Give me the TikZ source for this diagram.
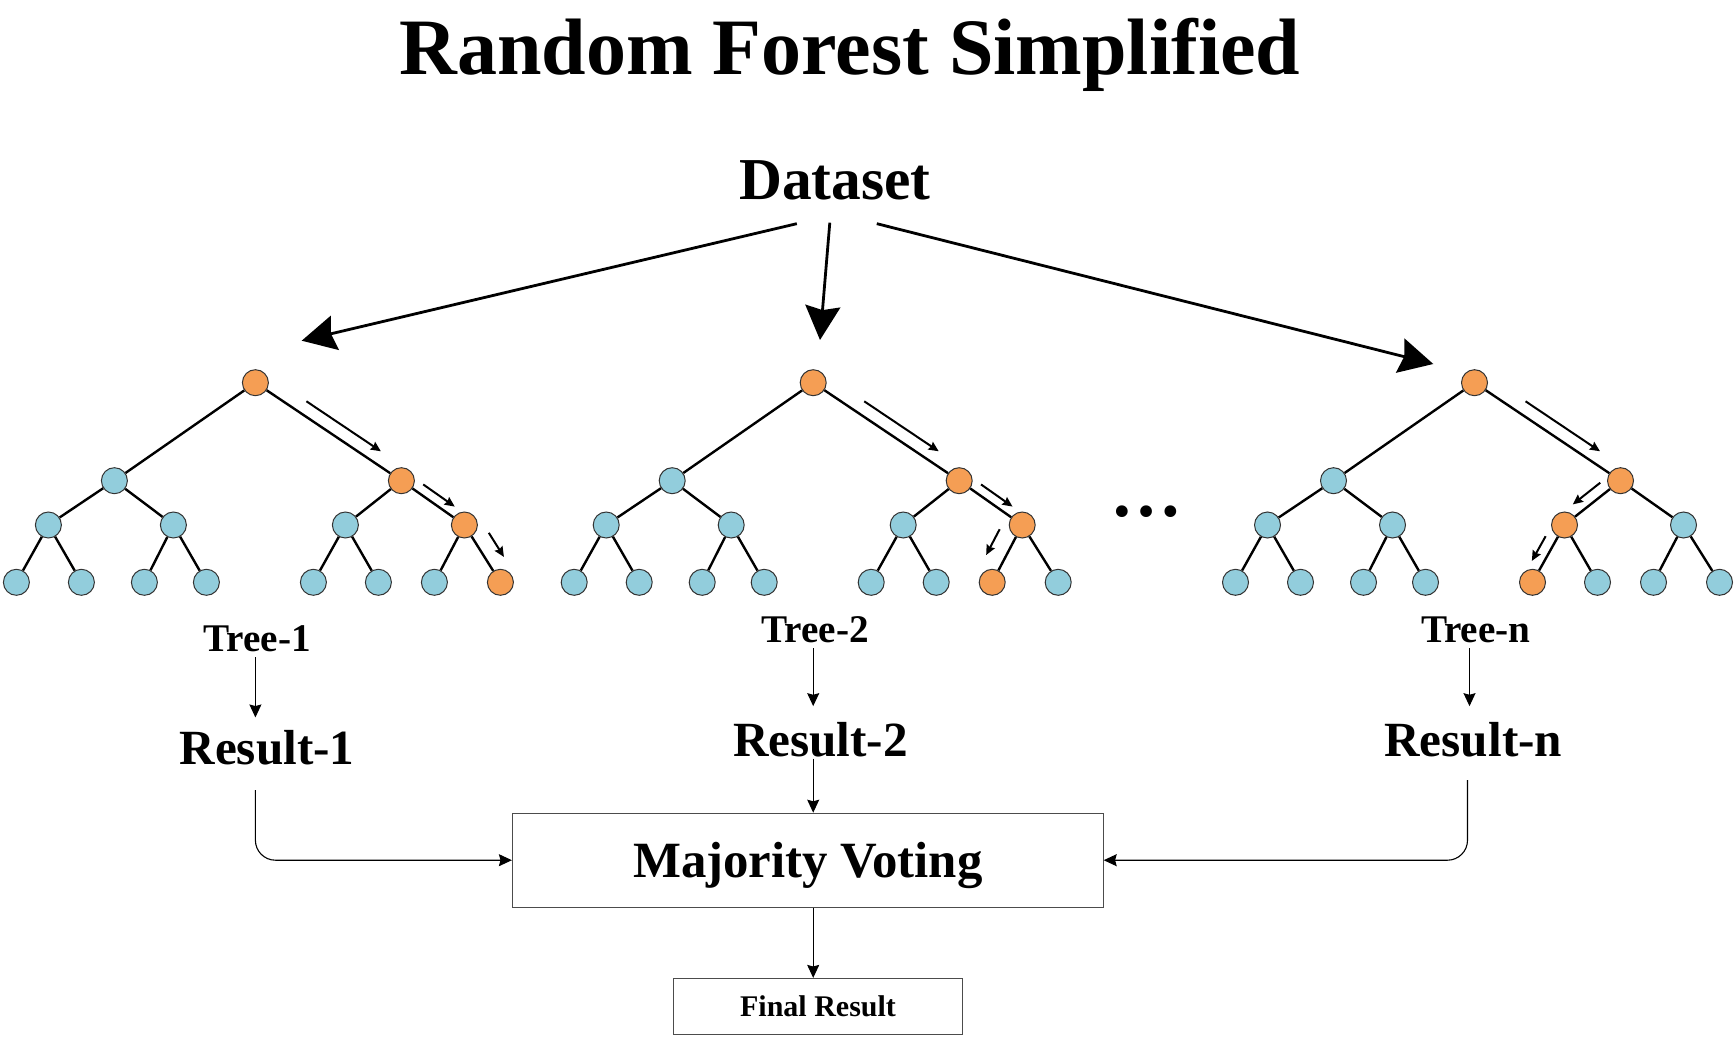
\documentclass[tikz,border=0pt]{standalone}
\usepackage{fontspec}
\setmainfont{Liberation Serif}
\usetikzlibrary{arrows.meta,calc}

\definecolor{leafblue}{RGB}{146,205,220}
\definecolor{hitorange}{RGB}{245,158,84}

\tikzset{
  treenode/.style={circle,draw=black!80,line width=0.5pt,minimum size=13pt,inner sep=0pt},
  branch/.style={line width=1.2pt},
  hintarrow/.style={line width=1pt,-{Stealth[length=5pt,width=4.5pt,inset=0.6pt]}},
  sample/.style={line width=1.4pt,-{Stealth[length=17pt,width=17.5pt,inset=2pt]}},
  feed/.style={line width=0.55pt,-{Stealth[length=6.5pt,width=6pt,inset=0.8pt]}},
  treelab/.style={anchor=base,inner sep=0pt,font=\fontsize{19.6}{23}\selectfont\bfseries},
  reslab/.style={anchor=base,inner sep=0pt,font=\fontsize{24.6}{29}\selectfont\bfseries},
  votebox/.style={draw=black!70,line width=0.6pt,minimum width=295.3pt,minimum height=46.9pt,
    text depth=0pt,font=\fontsize{25.4}{30}\selectfont\bfseries},
  finalbox/.style={draw=black!70,line width=0.6pt,minimum width=144.6pt,minimum height=28pt,
    text depth=0pt,font=\fontsize{15}{18}\selectfont\bfseries}
}

% one tree: #1 name, #2 root x, #3 leaf reached by the sample
\newcommand{\growtree}[3]{%
  \foreach \i/\dx/\y/\lev in {0/0/382.7/0, 1/-141/480.7/1, 2/146/480.7/1,
      3/-207/525/2, 4/-82/525/2, 5/90/525/2, 6/209/525/2,
      7/-239/582.3/3, 8/-174/582.3/3, 9/-111/582.3/3, 10/-49/582.3/3,
      11/58/582.3/3, 12/123/582.3/3, 13/179/582.3/3, 14/245/582.3/3}{
    \pgfmathtruncatemacro{\anc}{(#3+1)/2^(3-\lev)}
    \ifnum\anc=\numexpr\i+1\relax \def\ncol{hitorange}\else \def\ncol{leafblue}\fi
    \node[treenode,fill=\ncol] (#1\i) at ({#2+(\dx)},\y) {};
  }
  \foreach \i in {1,...,14}{
    \pgfmathtruncatemacro{\mom}{(\i-1)/2}
    \draw[branch] (#1\mom) -- (#1\i);
  }
}

% small arrow beside a branch: from, to, start, end, offset, side
\newcommand{\walkhint}[6]{%
  \draw[hintarrow] ($(#1)!#3!(#2)!#5!#6:(#2)$) -- ($(#1)!#4!(#2)!#5!#6:(#2)$);
}

\begin{document}
\begin{tikzpicture}[x=0.5pt,y=-0.5pt]
\useasboundingbox (0,0) rectangle (1735,1038);

\node[anchor=base,font=\fontsize{40}{48}\selectfont\bfseries] (title) at (850,75) {Random Forest Simplified};
\node[anchor=base,inner sep=0pt,font=\fontsize{29.7}{35}\selectfont\bfseries] (data) at (835,199.3) {Dataset};

% the trees
\growtree{ta}{255.4}{14}
\growtree{tb}{813.2}{13}
\growtree{tc}{1474.5}{11}
\node[anchor=base,inner sep=0pt,font=\fontsize{36}{40}\selectfont\bfseries] (more) at (1146,516.5) {…};

% decision path
\walkhint{ta0}{ta2}{0.30}{0.81}{6.5pt}{90}
\walkhint{ta2}{ta6}{0.26}{0.76}{4.75pt}{90}
\walkhint{ta6}{ta14}{0.29}{0.71}{8.25pt}{90}
\walkhint{tb0}{tb2}{0.30}{0.81}{6.5pt}{90}
\walkhint{tb2}{tb6}{0.26}{0.76}{4.75pt}{90}
\walkhint{tb6}{tb13}{0.22}{0.67}{9pt}{-90}
\walkhint{tc0}{tc2}{0.30}{0.81}{6.5pt}{90}
\walkhint{tc2}{tc5}{0.24}{0.73}{5.5pt}{-90}
\walkhint{tc5}{tc11}{0.29}{0.72}{5.5pt}{-90}

% samples from the dataset
\coordinate (in1) at ([shift={(46.3,-42)}]ta0);
\coordinate (in2) at ([shift={(6.8,-42.7)}]tb0);
\coordinate (in3) at ([shift={(-41.2,-18.7)}]tc0);
\draw[sample] ([xshift=-19.1pt,yshift=-11.7pt]data.south) -- (in1);
\draw[sample] ([xshift=-2.6pt,yshift=-11.2pt]data.south) -- (in2);
\draw[sample] ([xshift=20.9pt,yshift=-11.7pt]data.south) -- (in3);

% results
\node[treelab] (lab1) at (257,651.7) {Tree-1};
\node[treelab] (lab2) at (815,642.3) {Tree-2};
\node[treelab] (labn) at (1475.8,642.7) {Tree-n};
\node[reslab] (res1) at (267,764) {Result-1};
\node[reslab] (res2) at (820.5,756.7) {Result-2};
\node[reslab] (resn) at (1473.3,756.7) {Result-n};
\node[votebox] (vote) at (807.8,860.2) {Majority Voting};
\node[finalbox] (final) at (818,1006.5) {Final Result};

\draw[feed,shorten <=2.5pt,shorten >=6pt] (lab1.south -| ta0) -- (res1.north -| ta0);
\draw[feed,shorten <=2.5pt,shorten >=8pt] (lab2.south -| tb0) -- (res2.north -| tb0);
\draw[feed,shorten <=2.5pt,shorten >=8pt] ([xshift=-2.5pt]labn.south -| tc0) -- ([xshift=-2.5pt]resn.north -| tc0);
\draw[feed,shorten <=1pt] (res2.base -| tb0) -- (vote.north -| tb0);
\draw[feed,rounded corners=10pt,shorten <=13pt] (res1.base -| ta0) |- (vote.west);
\draw[feed,rounded corners=10pt,shorten <=11.7pt] ([xshift=-3.5pt]resn.base -| tc0) |- (vote.east);
\draw[feed] (vote.south -| tb0) -- (final.north -| tb0);
\end{tikzpicture}
\end{document}
